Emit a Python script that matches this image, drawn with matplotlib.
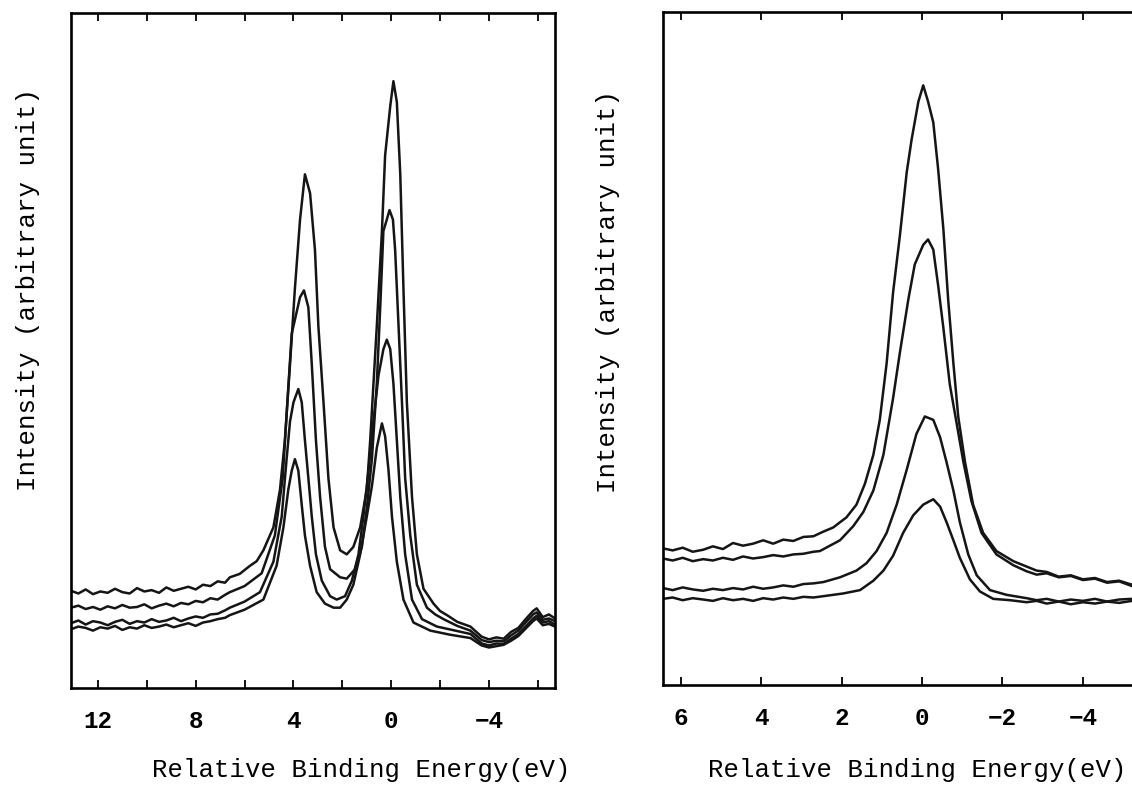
import matplotlib
matplotlib.use("Agg")
import matplotlib.pyplot as plt
import numpy as np

# ---- left panel: four spectra, shared flat-region energy grids ----
left_far_e = [13.1, 12.8, 12.5, 12.2, 11.9, 11.6, 11.3, 11.0, 10.7, 10.4, 10.1,
              9.8, 9.5, 9.2, 8.9, 8.6, 8.3, 8.0, 7.7, 7.4, 7.1, 6.8]
left_tail_e = [-3.7, -4.0, -4.3, -4.6, -4.9, -5.2, -5.5, -5.8, -5.95, -6.2, -6.45, -6.7]

a_far = [14.4, 14.0, 14.6, 13.9, 14.3, 14.1, 14.7, 14.2, 14.0, 14.8, 14.3,
         14.5, 14.1, 14.9, 14.4, 14.7, 15.0, 14.6, 15.3, 15.1, 15.8, 15.6]
a_mid_e = [6.6, 6.2, 5.78, 5.5, 5.23, 4.82, 4.55, 4.35, 4.14, 3.94, 3.73, 3.53,
           3.32, 3.12, 2.98, 2.77, 2.57, 2.36, 2.09, 1.82, 1.55, 1.27,
           1.0, 0.86, 0.59, 0.38, 0.25, 0.04, -0.09,
           -0.23, -0.37, -0.50, -0.64, -0.85, -1.05, -1.32, -1.73, -2.0, -2.28, -2.7, -3.24]
a_mid = [16.4, 16.9, 18.1, 18.8, 20.4, 23.8, 29.4, 36.7, 48.0, 59.2, 69.4, 76.1,
         73.3, 64.9, 53.6, 42.3, 31.1, 23.8, 20.4, 19.8, 20.9, 23.8,
         29.4, 36.7, 53.6, 67.7, 78.9, 86.2, 89.9,
         86.8, 76.1, 59.2, 42.3, 28.3, 19.8, 14.7, 12.5, 11.4, 10.8, 9.8, 9.1]
a_tail = [7.6, 7.2, 7.5, 7.3, 8.3, 8.9, 10.2, 11.4, 11.8, 10.5, 10.9, 10.3]

b_far = [11.9, 12.2, 11.7, 12.0, 11.6, 12.1, 11.8, 12.3, 11.9, 12.0, 12.4,
         11.8, 12.2, 12.5, 12.1, 12.6, 12.4, 12.9, 12.7, 13.3, 13.1, 13.8]
b_mid_e = [6.6, 6.0, 5.3, 4.76, 4.44, 4.25, 4.07, 3.73, 3.57,
           3.39, 3.25, 3.08, 2.91, 2.71, 2.50, 2.09, 1.82, 1.48, 1.20,
           1.00, 0.79, 0.59, 0.45, 0.32, 0.18, 0.07,
           -0.07, -0.16, -0.30, -0.44, -0.57, -0.78, -1.05, -1.46, -1.8, -2.14, -2.7, -3.24]
b_mid = [14.2, 15.1, 17.0, 22.6, 31.1, 42.3, 52.5, 57.9, 58.9,
         56.4, 48.0, 36.7, 28.3, 20.9, 17.6, 16.4, 16.2, 17.6, 20.9,
         26.6, 33.9, 45.1, 56.4, 67.7, 69.4, 70.8,
         69.4, 64.9, 53.6, 42.3, 31.1, 22.6, 15.3, 11.9, 10.9, 10.2, 9.2, 8.5]
b_tail = [7.1, 6.8, 7.0, 6.9, 7.8, 8.5, 9.7, 10.9, 11.2, 10.1, 10.3, 9.9]

c_far = [9.6, 10.0, 9.4, 9.9, 9.7, 9.3, 9.8, 10.1, 9.5, 9.9, 9.7,
         10.2, 9.8, 10.0, 10.4, 9.9, 10.3, 10.6, 10.4, 10.9, 11.0, 11.5]
c_mid_e = [6.6, 6.0, 5.37, 4.82, 4.48, 4.28, 4.14, 4.00, 3.80,
           3.66, 3.53, 3.39, 3.25, 3.08, 2.84, 2.50, 2.23, 1.89, 1.61,
           1.34, 1.14, 0.93, 0.73, 0.52, 0.32, 0.18,
           0.04, -0.09, -0.23, -0.37, -0.57, -0.85, -1.26, -1.87, -2.5, -3.24]
c_mid = [11.9, 12.8, 14.2, 18.7, 25.4, 33.9, 39.5, 42.3, 44.3,
         42.3, 36.7, 31.1, 25.4, 19.8, 15.9, 13.6, 13.1, 13.6, 15.9,
         19.8, 25.4, 32.2, 39.5, 46.3, 50.2, 51.6,
         50.2, 45.1, 36.7, 28.3, 19.8, 13.1, 10.2, 9.1, 8.6, 8.0]
c_tail = [6.6, 6.3, 6.6, 6.5, 7.3, 8.0, 9.1, 10.3, 10.7, 9.7, 9.9, 9.4]

d_far = [8.7, 9.1, 8.9, 8.5, 9.0, 8.8, 9.2, 8.6, 9.0, 8.8, 9.3,
         8.9, 9.1, 9.4, 9.0, 9.3, 9.6, 9.2, 9.7, 9.9, 10.2, 10.4]
d_mid_e = [6.6, 6.0, 5.23, 4.69, 4.41, 4.21, 4.07, 3.94,
           3.80, 3.66, 3.53, 3.32, 3.05, 2.71, 2.36, 2.09, 1.82, 1.55,
           1.27, 1.00, 0.79, 0.59, 0.38,
           0.25, 0.11, -0.03, -0.23, -0.50, -0.91, -1.60, -2.4, -3.24]
d_mid = [10.8, 11.6, 13.1, 18.1, 23.8, 29.4, 32.2, 33.9,
         32.2, 27.1, 22.6, 18.1, 14.2, 12.5, 11.9, 11.9, 13.1, 15.3,
         19.8, 25.4, 29.9, 35.6, 39.2,
         37.3, 32.2, 25.4, 18.7, 13.1, 9.7, 8.5, 7.9, 7.4]
d_tail = [6.3, 6.0, 6.2, 6.4, 7.0, 7.7, 8.8, 9.9, 10.3, 9.3, 9.5, 9.1]

# ---- right panel ----
right_far_e = [6.44, 6.2, 5.95, 5.7, 5.44, 5.2, 4.95, 4.7, 4.45, 4.2, 3.95,
               3.7, 3.45, 3.2, 2.95, 2.7]
right_tail_e = [-2.6, -2.85, -3.1, -3.4, -3.7, -4.0, -4.3, -4.6, -4.9, -5.22]

p_far = [20.3, 20.0, 20.4, 19.8, 20.1, 20.6, 20.2, 21.1, 20.7, 21.0, 21.5,
         21.0, 21.6, 21.4, 22.0, 22.1]
p_mid_e = [2.45, 2.21, 1.88, 1.63, 1.42, 1.21, 1.05, 0.88, 0.72, 0.55,
           0.38, 0.26, 0.09, -0.03, -0.15, -0.28, -0.40, -0.53, -0.65, -0.78,
           -0.90, -1.07, -1.27, -1.52, -1.85, -2.27]
p_mid = [22.8, 23.4, 24.9, 26.8, 29.9, 34.2, 39.4, 47.8, 58.3, 66.8,
         76.2, 81.0, 86.7, 89.1, 86.7, 83.6, 76.7, 67.8, 57.3, 47.8,
         39.9, 33.1, 26.8, 22.6, 19.9, 18.4]
p_tail = [17.6, 17.0, 16.8, 16.1, 16.3, 15.7, 15.9, 15.3, 15.5, 14.9]

q_far = [18.8, 18.5, 18.9, 18.4, 18.7, 18.5, 18.9, 18.6, 19.1, 18.8, 19.0,
         19.3, 19.1, 19.4, 19.5, 19.8]
q_mid_e = [2.54, 2.04, 1.71, 1.46, 1.21, 0.96, 0.72, 0.55, 0.34, 0.18,
           -0.03, -0.15, -0.28, -0.40, -0.53, -0.69, -0.86, -1.03, -1.23, -1.48,
           -1.85, -2.27]
q_mid = [19.9, 21.5, 23.6, 25.7, 28.9, 34.2, 42.6, 49.4, 57.3, 62.5,
         65.4, 66.2, 64.7, 59.4, 53.1, 44.7, 38.9, 33.1, 27.3, 22.6,
         19.4, 17.8]
q_tail = [16.9, 16.4, 16.6, 16.0, 16.2, 15.6, 15.8, 15.2, 15.4, 14.7]

r_far = [14.4, 14.1, 14.5, 14.2, 14.0, 14.3, 14.1, 14.4, 14.2, 14.6, 14.3,
         14.5, 14.8, 14.6, 15.0, 15.1]
r_mid_e = [2.45, 2.04, 1.63, 1.38, 1.13, 0.88, 0.63, 0.38, 0.14, -0.07,
           -0.28, -0.45, -0.61, -0.78, -0.94, -1.15, -1.36, -1.69, -2.10]
r_mid = [15.3, 16.0, 17.0, 18.1, 19.9, 22.6, 26.8, 32.0, 37.3, 39.9,
         39.4, 36.8, 33.1, 28.9, 24.2, 19.4, 16.3, 14.1, 13.4]
r_tail = [12.9, 12.6, 12.8, 12.4, 12.7, 12.5, 12.8, 12.4, 12.7, 12.8]

s_far = [12.8, 13.0, 12.6, 12.9, 12.7, 12.5, 12.9, 12.6, 12.8, 12.5, 12.9,
         12.7, 13.0, 12.8, 13.1, 13.0]
s_mid_e = [2.45, 1.96, 1.54, 1.21, 0.96, 0.72, 0.47, 0.22, -0.03, -0.28,
           -0.45, -0.61, -0.78, -0.94, -1.19, -1.44, -1.77, -2.19]
s_mid = [13.2, 13.6, 14.1, 15.5, 17.0, 19.2, 22.6, 25.2, 26.8, 27.6,
         26.5, 24.2, 21.5, 18.9, 15.7, 13.9, 12.8, 12.6]
s_tail = [12.3, 12.5, 12.1, 12.4, 12.0, 12.3, 12.1, 12.4, 12.2, 12.5]

left_ticks = [12, 10, 8, 6, 4, 2, 0, -2, -4, -6]
left_labels = ["12", "", "8", "", "4", "", "0", "", "\u22124", ""]
right_ticks = [6, 4, 2, 0, -2, -4]
right_labels = ["6", "4", "2", "0", "\u22122", "\u22124"]

FONT = "Liberation Mono"


def style(ax, ticks, labels, xlim):
    ax.set_xlim(*xlim)
    ax.set_ylim(0, 100)
    ax.set_xticks(ticks)
    ax.set_xticklabels(labels, fontfamily=FONT, fontsize=17.5, fontweight="bold")
    ax.set_yticks([])
    ax.tick_params(axis="x", direction="in", top=True, bottom=True,
                   length=6, width=1.3, pad=16)
    for sp in ax.spines.values():
        sp.set_linewidth(1.9)
    ax.set_xlabel("Relative Binding Energy(eV)", fontfamily=FONT, fontsize=18.5)
    ax.set_ylabel("Intensity (arbitrary unit)", fontfamily=FONT, fontsize=18.5)


fig = plt.figure(figsize=(11.32, 7.88), dpi=100)
ax1 = fig.add_axes([71 / 1132, 100 / 788, 484 / 1132, 675 / 788])
ax2 = fig.add_axes([663 / 1132, 103 / 788, 475 / 1132, 673 / 788])

for far, me, mi, tail in [(a_far, a_mid_e, a_mid, a_tail),
                          (b_far, b_mid_e, b_mid, b_tail),
                          (c_far, c_mid_e, c_mid, c_tail),
                          (d_far, d_mid_e, d_mid, d_tail)]:
    e = left_far_e + me + left_tail_e
    v = far + mi + tail
    ax1.plot(e, v, color="#151515", lw=1.8)

for far, me, mi, tail in [(p_far, p_mid_e, p_mid, p_tail),
                          (q_far, q_mid_e, q_mid, q_tail),
                          (r_far, r_mid_e, r_mid, r_tail),
                          (s_far, s_mid_e, s_mid, s_tail)]:
    e = right_far_e + me + right_tail_e
    v = far + mi + tail
    ax2.plot(e, v, color="#151515", lw=1.8)

style(ax1, left_ticks, left_labels, (13.1, -6.7))
style(ax2, right_ticks, right_labels, (6.44, -5.37))
ax1.xaxis.set_label_coords(0.6, -0.104)
ax2.xaxis.set_label_coords(0.535, -0.108)
ax1.yaxis.set_label_coords(-0.064, 0.59)
ax2.yaxis.set_label_coords(-0.09, 0.585)

fig.savefig("out.png", dpi=100)
